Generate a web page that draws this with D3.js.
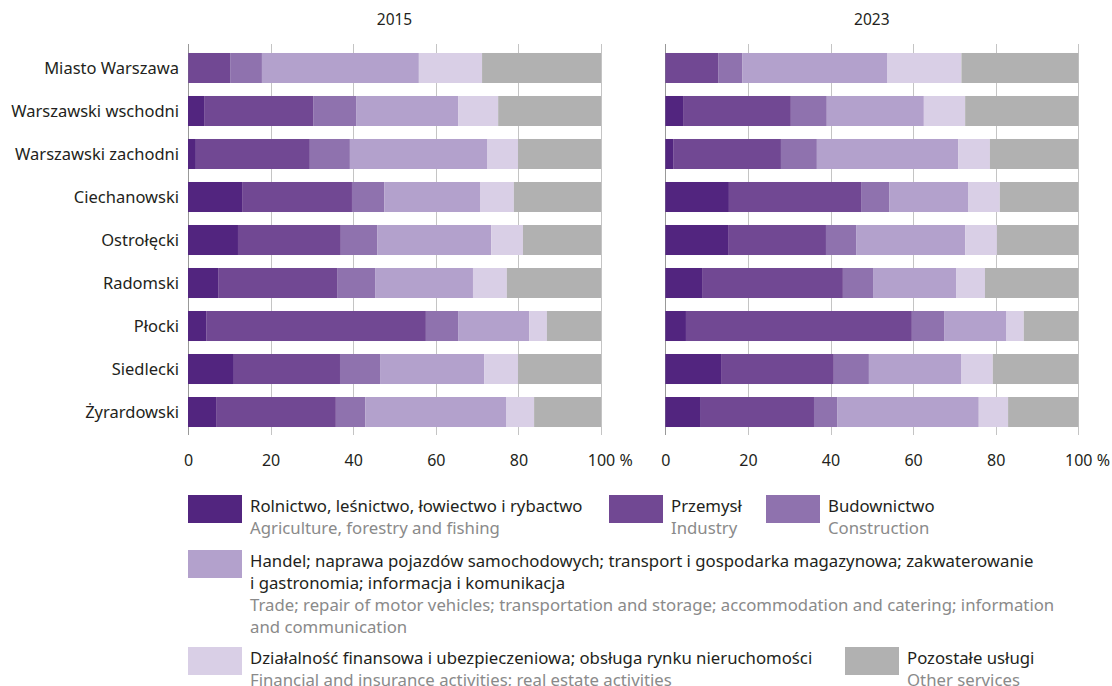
<!DOCTYPE html>
<html>
<head>
<meta charset="utf-8">
<script src="https://d3js.org/d3.v7.min.js"></script>
<style>
  body { margin: 0; background: #fff; }
  text { font-family: "Noto Sans", sans-serif; }
</style>
</head>
<body>
<svg id="svg" width="1112" height="686"></svg>
<script>
var regions = ["Miasto Warszawa", "Warszawski wschodni", "Warszawski zachodni", "Ciechanowski",
    "Ostrołęcki", "Radomski", "Płocki", "Siedlecki", "Żyrardowski"];
var years = ["2015", "2023"];
var sectors = ["agri", "industry", "construction", "trade", "finance", "other"];
var colors = ["#52257f", "#714893", "#8f72ae", "#b3a1cc", "#d9cfe6", "#b1b1b1"];
var ticks = [0, 20, 40, 60, 80, 100];

// 2015 shares, %
var agri2015 = [0.1, 3.9, 1.9, 13.1, 12.1, 7.3, 4.4, 11.1, 6.8];
var industry2015 = [10.1, 26.4, 27.6, 26.6, 24.9, 28.8, 53.2, 25.7, 29.0];
var construction2015 = [7.7, 10.4, 9.7, 7.8, 8.8, 9.2, 7.8, 9.7, 7.1];
var trade2015 = [38.0, 24.7, 33.2, 23.2, 27.6, 23.7, 17.2, 25.2, 34.1];
var finance2015 = [15.3, 9.7, 7.5, 8.2, 7.7, 8.2, 4.3, 8.2, 6.8];
var other2015 = [28.8, 24.9, 20.1, 21.1, 18.9, 22.8, 13.1, 20.1, 16.2];

// 2023 shares, %
var agri2023 = [0.1, 4.3, 1.9, 15.4, 15.2, 8.9, 5.0, 13.5, 8.6];
var industry2023 = [12.7, 26.1, 26.1, 32.0, 23.7, 34.1, 54.7, 27.3, 27.4];
var construction2023 = [5.9, 8.7, 8.7, 6.8, 7.3, 7.3, 7.8, 8.5, 5.6];
var trade2023 = [35.1, 23.5, 34.2, 19.1, 26.4, 20.1, 15.0, 22.3, 34.3];
var finance2023 = [17.9, 10.0, 7.7, 7.7, 7.7, 7.0, 4.3, 7.7, 7.1];
var other2023 = [28.3, 27.4, 21.4, 19.0, 19.7, 22.6, 13.2, 20.7, 17.0];

var legendPl = [
    ["Rolnictwo, leśnictwo, łowiectwo i rybactwo"],
    ["Przemysł"],
    ["Budownictwo"],
    ["Handel; naprawa pojazdów samochodowych; transport i gospodarka magazynowa; zakwaterowanie", "i gastronomia; informacja i komunikacja"],
    ["Działalność finansowa i ubezpieczeniowa; obsługa rynku nieruchomości"],
    ["Pozostałe usługi"]
];
var legendEn = [
    ["Agriculture, forestry and fishing"],
    ["Industry"],
    ["Construction"],
    ["Trade; repair of motor vehicles; transportation and storage; accommodation and catering; information", "and communication"],
    ["Financial and insurance activities; real estate activities"],
    ["Other services"]
];

var svg = d3.select("#svg");
var series = {
    "2015": [agri2015, industry2015, construction2015, trade2015, finance2015, other2015],
    "2023": [agri2023, industry2023, construction2023, trade2023, finance2023, other2023]
};

var ink = "#231f20";
var y = d3.scaleBand().domain(regions).range([40, 440]).padding(0.302);
var panelX = { "2015": 188, "2023": 665.3 };
var panelW = 413;

function rows(year) {
    return regions.map(function(r, i) {
        var o = { region: r };
        sectors.forEach(function(s, j) { o[s] = series[year][j][i]; });
        return o;
    });
}

var stack = d3.stack().keys(sectors);

years.forEach(function(year) {
    var x = d3.scaleLinear().domain([0, 100]).range([panelX[year], panelX[year] + panelW]);
    var g = svg.append("g");

    g.append("text").attr("x", x(50)).attr("y", 25).attr("text-anchor", "middle")
        .attr("font-size", 15.5).attr("fill", ink).text(year);

    g.selectAll("line.grid").data(ticks).enter().append("line")
        .attr("x1", function(d) { return Math.round(x(d)) + 0.5; })
        .attr("x2", function(d) { return Math.round(x(d)) + 0.5; })
        .attr("y1", 44).attr("y2", 435)
        .attr("stroke", function(d) { return d == 0 ? "#999" : "#c4c4c4"; })
        .attr("stroke-width", 1);

    var layers = stack(rows(year));
    g.selectAll("g.layer").data(layers).enter().append("g")
        .attr("fill", function(d, i) { return colors[i]; })
        .selectAll("rect").data(function(d) { return d; }).enter().append("rect")
        .attr("x", function(d) { return x(d[0]); })
        .attr("width", function(d) { return x(d[1]) - x(d[0]); })
        .attr("y", function(d) { return y(d.data.region); })
        .attr("height", y.bandwidth());

    var ax = g.append("g").attr("transform", "translate(0,450)")
        .call(d3.axisBottom(x).tickValues(ticks).tickSize(0).tickPadding(0));
    ax.select(".domain").remove();
    ax.selectAll("text").attr("font-size", 16).attr("fill", ink)
        .attr("font-family", "\"Noto Sans\", sans-serif").attr("dy", "1.0em");
    ax.selectAll(".tick").filter(function(d) { return d == 100; }).select("text")
        .each(function() {
            var t = d3.select(this);
            var w = this.getComputedTextLength();
            t.attr("text-anchor", "start").attr("x", -w / 2);
            t.append("tspan").text(" %");
        });
});

svg.append("g").selectAll("text").data(regions).enter().append("text")
    .attr("x", 179).attr("y", function(d) { return y(d) + y.bandwidth() / 2; })
    .attr("dy", "0.36em").attr("text-anchor", "end")
    .attr("font-size", 16.5).attr("fill", ink).text(function(d) { return d; });

// legend
var legendPos = [[188, 495], [609, 495], [766, 495], [188, 550], [188, 647], [845, 647]];
var lg = svg.append("g");
legendPos.forEach(function(p, i) {
    lg.append("rect").attr("x", p[0]).attr("y", p[1]).attr("width", 54).attr("height", 28).attr("fill", colors[i]);
    var lines = legendPl[i].map(function(t) { return { t: t, c: ink }; })
        .concat(legendEn[i].map(function(t) { return { t: t, c: "#8a8a8a" }; }));
    lines.forEach(function(l, k) {
        lg.append("text").attr("x", p[0] + 62).attr("y", p[1] + 17 + k * 22)
            .attr("font-size", 16.75).attr("fill", l.c).text(l.t);
    });
});
</script>
</body>
</html>
